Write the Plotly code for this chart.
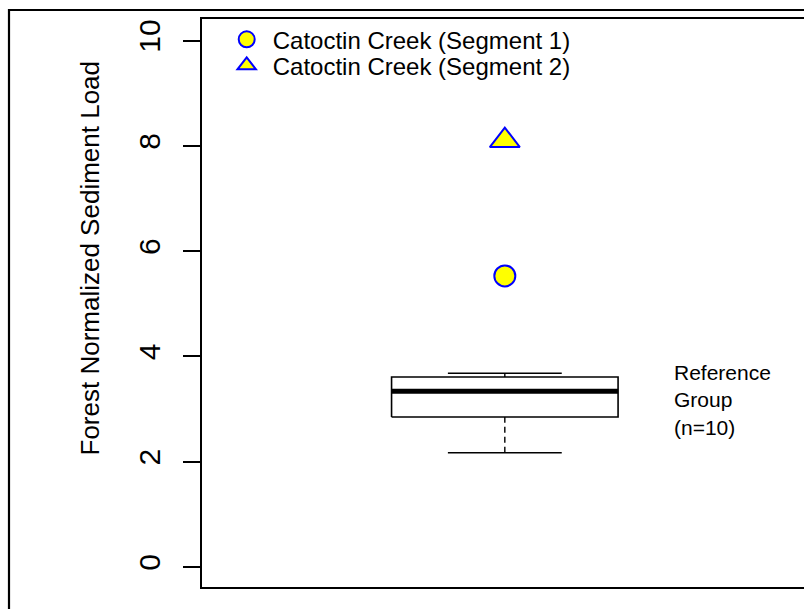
import plotly.graph_objects as go

# ---- data ----
ref_stats = {"lower": 2.17, "q1": 2.85, "median": 3.34, "q3": 3.61, "upper": 3.68}
site_names = ["Catoctin Creek (Segment 1)", "Catoctin Creek (Segment 2)"]
site_values = [5.53, 8.1]
site_symbols = ["circle", "triangle-up"]
site_sizes = [21, 26]
y_ticks = [0, 2, 4, 6, 8, 10]
group_label = "Reference<br>Group<br>(n=10)"
y_title = "Forest Normalized Sediment Load"

FONT = "Liberation Sans, Arial, sans-serif"
c = 1.0          # box position
hw = 0.187       # box half width
cw = 0.094       # staple half width

fig = go.Figure()
s = ref_stats
# box body
fig.add_trace(go.Scatter(
    x=[c - hw, c + hw, c + hw, c - hw, c - hw],
    y=[s["q1"], s["q1"], s["q3"], s["q3"], s["q1"]],
    mode="lines", fill="toself", fillcolor="white",
    line=dict(color="black", width=1.6), showlegend=False, hoverinfo="skip"))
# whiskers
for a, b in [(s["lower"], s["q1"]), (s["q3"], s["upper"])]:
    fig.add_trace(go.Scatter(x=[c, c], y=[a, b], mode="lines",
                             line=dict(color="black", width=1.4, dash="6px,4px"),
                             showlegend=False, hoverinfo="skip"))
# staples
for v in [s["lower"], s["upper"]]:
    fig.add_trace(go.Scatter(x=[c - cw, c + cw], y=[v, v], mode="lines",
                             line=dict(color="black", width=1.6),
                             showlegend=False, hoverinfo="skip"))
# median
fig.add_trace(go.Scatter(x=[c - hw, c + hw], y=[s["median"], s["median"]], mode="lines",
                         line=dict(color="black", width=5),
                         showlegend=False, hoverinfo="skip"))
# sites
legends = ["legend", "legend2"]
for name, val, sym, sz, lg in zip(site_names, site_values, site_symbols, site_sizes, legends):
    fig.add_trace(go.Scatter(
        x=[c], y=[val], mode="markers", name=name, legend=lg,
        marker=dict(symbol=sym, size=sz, color="#ffff00",
                    line=dict(color="#0000ff", width=2))))

W, H = 804, 609
L, R, T, B = 202, 0, 19, 22
pw, ph = W - L - R, H - T - B

def px_x(p):
    return (p - L) / pw

def px_y(p):
    return (H - B - p) / ph

fig.update_layout(
    width=W, height=H,
    margin=dict(l=L, r=R, t=T, b=B),
    paper_bgcolor="white", plot_bgcolor="white",
    font=dict(family=FONT, color="black"),
    xaxis=dict(range=[0.5, 1.494], showgrid=False, zeroline=False,
               showticklabels=False, ticks="", showline=True,
               linecolor="black", linewidth=2, mirror=True, fixedrange=True),
    yaxis=dict(range=[-0.38, 10.41], tickvals=y_ticks, ticktext=[str(t) for t in y_ticks],
               showgrid=False, zeroline=False, ticks="outside", ticklen=17,
               tickwidth=2, tickcolor="black", tickangle=-90,
               tickfont=dict(size=30, family=FONT), ticklabelstandoff=11,
               showline=True, linecolor="black", linewidth=2, fixedrange=True),
    legend=dict(x=px_x(220.7), y=px_y(39.7), xanchor="left", yanchor="middle",
                bgcolor="rgba(0,0,0,0)", itemwidth=42,
                font=dict(size=24, family=FONT)),
    legend2=dict(x=px_x(220.7), y=px_y(65.7), xanchor="left", yanchor="middle",
                 bgcolor="rgba(0,0,0,0)", itemwidth=42,
                 font=dict(size=24, family=FONT)),
    showlegend=True,
)

fig.add_annotation(text=y_title, xref="paper", yref="paper",
                   x=px_x(89), y=px_y(258.5), textangle=-90, showarrow=False,
                   xanchor="center", yanchor="middle",
                   font=dict(size=26, family=FONT))
fig.add_annotation(text=group_label, xref="paper", yref="paper",
                   x=px_x(672), y=px_y(400), xanchor="left", yanchor="middle",
                   align="left", showarrow=False, font=dict(size=21, family=FONT))

# outer figure frame
fig.add_shape(type="rect", xref="paper", yref="paper",
              x0=px_x(9), x1=1.3, y0=-0.3, y1=px_y(10),
              line=dict(color="black", width=2.2), fillcolor="rgba(0,0,0,0)", layer="above")

fig.write_html("out.html", config={"displayModeBar": False},
               post_script="document.body.style.margin='0';document.body.style.overflow='hidden';")
